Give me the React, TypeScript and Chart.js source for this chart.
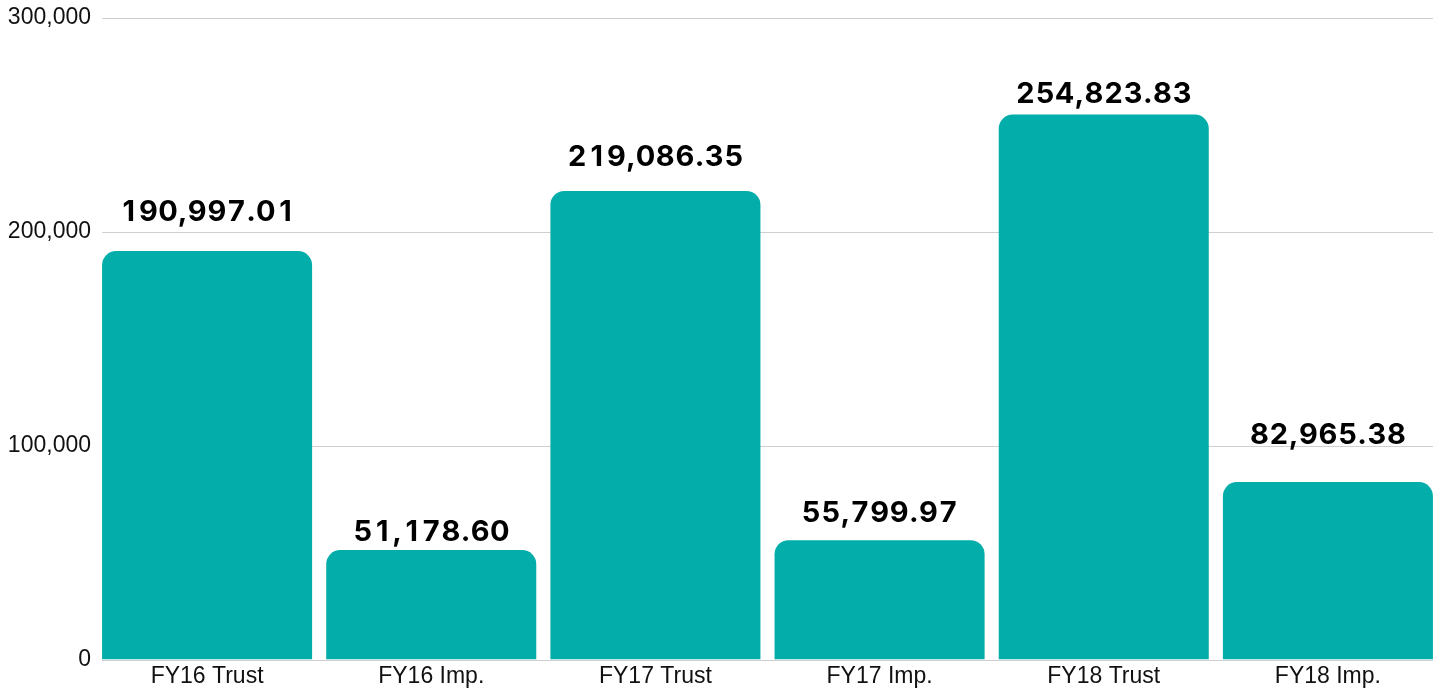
import React, { useEffect, useRef } from "react";
import { Chart, registerables } from "chart.js";

Chart.register(...registerables);

const categories = ["FY16 Trust", "FY16 Imp.", "FY17 Trust", "FY17 Imp.", "FY18 Trust", "FY18 Imp."];
const values = [190997.01, 51178.6, 219086.35, 55799.97, 254823.83, 82965.38];
const yMax = 300000;
const yStep = 100000;

// gap (px) between each value label's baseline and its bar top, as laid out in the reference
const labelGaps = [30, 9, 25, 18, 12, 38];

const BAR_COLOR = "#03ADA9";
const LABEL_FONT = "700 29px Inter, 'DejaVu Sans', sans-serif";

const gridPlugin = {
  id: "customGrid",
  beforeDatasetsDraw(chart: any) {
    const ctx = chart.ctx;
    const y = chart.scales.y;
    const meta = chart.getDatasetMeta(0);
    const first = meta.data[0];
    const last = meta.data[meta.data.length - 1];
    const left = first.x - first.width / 2;
    const right = last.x + last.width / 2;
    ctx.save();
    ctx.strokeStyle = "#cfcfcf";
    ctx.lineWidth = 1.2;
    y.ticks.forEach((t: any) => {
      const py = Math.round(y.getPixelForValue(t.value)) + 0.5;
      ctx.beginPath();
      ctx.moveTo(left, py);
      ctx.lineTo(right, py);
      ctx.stroke();
    });
    ctx.restore();
  },
};

function drawTabular(ctx: CanvasRenderingContext2D, txt: string, cx: number, baseline: number) {
  let digitW = 0;
  for (let d = 0; d <= 9; d++) digitW = Math.max(digitW, ctx.measureText(String(d)).width);
  const widths = txt.split("").map((ch) => (/\d/.test(ch) ? digitW : ctx.measureText(ch).width));
  const total = widths.reduce((a, b) => a + b, 0);
  let x = cx - total / 2;
  txt.split("").forEach((ch, i) => {
    ctx.textAlign = "center";
    ctx.fillText(ch, x + widths[i] / 2, baseline);
    x += widths[i];
  });
}

const labelPlugin = {
  id: "valueLabels",
  afterDatasetsDraw(chart: any) {
    const ctx = chart.ctx;
    const meta = chart.getDatasetMeta(0);
    ctx.save();
    ctx.font = LABEL_FONT;
    ctx.fillStyle = "#000";
    ctx.textBaseline = "alphabetic";
    meta.data.forEach((bar: any, i: number) => {
      const txt = values[i].toLocaleString("en-US", { minimumFractionDigits: 2, maximumFractionDigits: 2 });
      drawTabular(ctx, txt, bar.x, bar.y - labelGaps[i]);
    });
    ctx.restore();
  },
};

export default function App() {
  const ref = useRef<HTMLCanvasElement | null>(null);
  useEffect(() => {
    if (!ref.current) return;
    const chart = new Chart(ref.current, {
      type: "bar",
      data: {
        labels: categories,
        datasets: [
          {
            data: values,
            backgroundColor: BAR_COLOR,
            borderRadius: { topLeft: 14, topRight: 14, bottomLeft: 0, bottomRight: 0 },
            borderSkipped: false,
            categoryPercentage: 1,
            barPercentage: 0.937,
          },
        ],
      },
      options: {
        animation: false,
        responsive: true,
        maintainAspectRatio: false,
        layout: { padding: { top: 18, right: 2, left: 0, bottom: 0 } },
        plugins: { legend: { display: false }, tooltip: { enabled: false } },
        scales: {
          x: {
            grid: { display: false, drawTicks: false },
            border: { display: false },
            ticks: {
              color: "#111",
              font: { family: "'Liberation Sans', Arial, sans-serif", size: 23 },
              padding: 3,
              maxRotation: 0,
            },
            afterFit(scale: any) {
              scale.height = 28.5;
            },
          },
          y: {
            min: 0,
            max: yMax,
            grid: { display: false, drawTicks: false },
            border: { display: false },
            ticks: {
              stepSize: yStep,
              color: "#111",
              padding: 4,
              font: { family: "'Liberation Sans', Arial, sans-serif", size: 23 },
            },
            afterFit(scale: any) {
              scale.width = 95;
            },
          },
        },
      },
      plugins: [gridPlugin, labelPlugin],
    });
    return () => chart.destroy();
  }, []);
  return (
    <div style={{ position: "fixed", left: 0, top: 0, width: 1442, height: 688, background: "#fff" }}>
      <canvas ref={ref} />
    </div>
  );
}
